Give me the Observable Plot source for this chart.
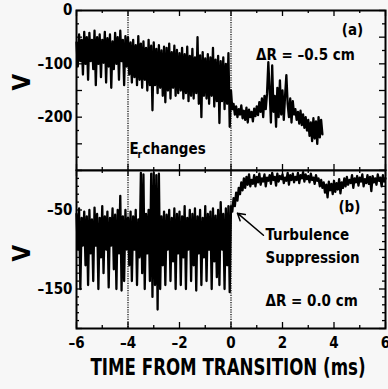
<!DOCTYPE html>
<html>
<head>
<meta charset="utf-8">
<script src="https://cdn.jsdelivr.net/npm/d3@7"></script>
<script src="https://cdn.jsdelivr.net/npm/@observablehq/plot@0.6"></script>
<style>
  html, body { margin: 0; padding: 0; background: #f7f7f7; }
  #wrap { position: relative; width: 388px; height: 389px; overflow: hidden; }
  #wrap > svg { position: absolute; left: 0; }
</style>
</head>
<body>
<div id="wrap"></div>
<script>
// ---- sampling grid (ms) ----
const TIME_START = -6;
const TIME_STEP = 0.05;

// ---- panel (a): ΔR = -0.5 cm, V vs time, sampled every 0.05 ms from -6 ms ----
const valuesA = [
  -60,-105,-45,-95,-55,-120,-40,-100,-50,-130,
  -42,-95,-55,-110,-38,-140,-50,-100,-45,-125,
  -55,-98,-40,-135,-52,-105,-45,-145,-58,-110,
  -42,-100,-50,-130,-38,-95,-55,-140,-48,-105,
  -50,-120,-60,-135,-55,-125,-65,-140,-48,-130,
  -62,-145,-58,-130,-70,-150,-55,-140,-66,-187,
  -60,-140,-72,-155,-65,-145,-75,-160,-68,-172,
  -70,-150,-62,-165,-78,-145,-66,-160,-74,-155,
  -80,-150,-70,-165,-82,-155,-68,-170,-85,-160,
  -72,-165,-88,-155,-50,-175,-84,-200,-78,-160,
  -90,-165,-82,-175,-88,-160,-70,-180,-92,-170,
  -85,-211,-95,-170,-88,-185,-100,-175,-80,-218,
  -150,-185,-175,-195,-180,-200,-185,-195,-178,-202,
  -188,-205,-182,-210,-186,-200,-190,-208,-184,-198,
  -180,-196,-172,-190,-165,-200,-160,-185,-155,-97,
  -150,-210,-103,-190,-160,-218,-145,-200,-131,-195,
  -150,-205,-160,-121,-175,-200,-165,-210,-170,-195,
  -185,-205,-190,-212,-188,-215,-195,-220,-200,-225,
  -205,-235,-210,-245,-202,-240,-208,-250,-200,-238,
  -205,-232
];

// ---- panel (b): ΔR = 0.0 cm, sampled every 0.05 ms from -6 ms ----
const valuesB = [
  -55,-100,-48,-150,-60,-95,-52,-120,-58,-145,
  -50,-105,-62,-140,-47,-95,-55,-150,-60,-110,
  -45,-130,-58,-100,-52,-148,-60,-95,-48,-125,
  -56,-150,-50,-105,-32,-152,-58,-140,-50,-100,
  -60,-120,-52,-140,-58,-100,-50,-145,-62,-110,
  -3,-130,-5,-150,-55,-105,-50,-140,-4,-160,
  -3,-145,-6,-176,-4,-150,-58,-120,-52,-145,
  -56,-100,-50,-140,-60,-115,-48,-150,-55,-105,
  -52,-145,-58,-110,-45,-150,-60,-100,-50,-140,
  -55,-120,-48,-152,-58,-105,-50,-145,-60,-110,
  -45,-140,-55,-100,-52,-150,-48,-115,-57,-135,
  -50,-145,-40,-100,-55,-150,-48,-120,-45,-154,
  -45,-52,-35,-45,-28,-38,-22,-30,-15,-25,
  -10,-22,-8,-18,-5,-20,-12,-17,-6,-20,
  -8,-15,-4,-18,-10,-14,-5,-20,-9,-13,
  -6,-17,-3,-12,-8,-19,-4,-14,-7,-11,
  -5,-16,-9,-13,-3,-18,-6,-12,-4,-15,
  -8,-12,-3,-16,-6,-10,-2,-14,-5,-11,
  -7,-15,-4,-12,-9,-17,-6,-13,-10,-20,
  -12,-22,-15,-28,-18,-34,-14,-25,-17,-30,
  -13,-27,-16,-24,-11,-29,-15,-22,-10,-20,
  -8,-18,-12,-16,-6,-22,-10,-15,-7,-19,
  -9,-14,-5,-20,-11,-16,-6,-17,-8,-26,
  -7,-15,-10,-18,-5,-13,-9,-20,-6,-14,
  -10
];

// ---- markers / ticks / labels ----
const markerTimes = [-4, 0];
const xLabelTicks = [-6, -4, -2, 0, 2, 4, 6];
const xMinorTicks = [-5, -3, -1, 1, 3, 5];
const yDomainA = [-300, 0];
const yLabelTicksA = [0, -100, -200];
const yMajorTicksA = [0, -50, -100, -150, -200, -250, -300];
const yMinorTicksA = [-25, -75, -125, -175, -225, -275];
const yDomainB = [-200, 0];
const yLabelTicksB = [-50, -150];
const yMajorTicksB = [0, -50, -100, -150, -200];
const yMinorTicksB = [-10, -20, -30, -40, -60, -70, -80, -90, -110, -120, -130, -140, -160, -170, -180, -190];

const notesA = [
  {t: 4.72, v: -37, text: "(a)"},
  {t: 2.89, v: -84, text: "ΔR = –0.5 cm"}
];
const erNote = {t: -3.94, v: -260};
const notesBMiddle = [
  {t: 4.60, v: -47, text: "(b)"}
];
const notesBStart = [
  {t: 1.34, v: -82, text: "Turbulence"},
  {t: 1.34, v: -111, text: "Suppression"},
  {t: 1.34, v: -166, text: "ΔR = 0.0 cm"}
];
const arrowB = [{t1: 1.26, v1: -82, t2: 0.25, v2: -54}];
const xTitle = "TIME FROM TRANSITION (ms)";
const yTitle = "V";

// ---- build ----
const toSeries = vals => vals.map((v, i) => ({t: +(TIME_START + i * TIME_STEP).toFixed(2), v}));
const seriesA = toSeries(valuesA);
const seriesB = toSeries(valuesB);

const FONT = "'DejaVu Sans Condensed', 'DejaVu Sans', sans-serif";
const fmt = d => d === 0 ? "0" : (d < 0 ? "–" + Math.abs(d) : String(d));
const TW = 1.3;
const LW = 2.3;

const W = 388, ML = 76, MR = 3;
const PW = W - ML - MR;

function frameTicks(xMajor, xMinor, yMajor, yMinor, PH) {
  const out = [];
  for (const [vals, len] of [[yMajor, 6], [yMinor, 3]]) {
    out.push(Plot.tickY(vals, {y: d => d, stroke: "black", strokeWidth: TW, insetRight: PW - len}));
    out.push(Plot.tickY(vals, {y: d => d, stroke: "black", strokeWidth: TW, insetLeft: PW - len}));
  }
  for (const [vals, len] of [[xMajor, 6], [xMinor, 3]]) {
    out.push(Plot.tickX(vals, {x: d => d, stroke: "black", strokeWidth: TW, insetTop: PH - len}));
    out.push(Plot.tickX(vals, {x: d => d, stroke: "black", strokeWidth: TW, insetBottom: PH - len}));
  }
  return out;
}

const HA = 171, MTA = 10, MBA = 1;
const plotA = Plot.plot({
  width: W, height: HA,
  marginLeft: ML, marginRight: MR, marginTop: MTA, marginBottom: MBA,
  x: {domain: [-6, 6], axis: null},
  y: {domain: yDomainA, axis: null},
  style: {background: "transparent", fontFamily: FONT, color: "black"},
  marks: [
    Plot.ruleX(markerTimes, {stroke: "#111", strokeWidth: 1.3, strokeDasharray: "1.2,1.2"}),
    Plot.line(seriesA, {x: "t", y: "v", stroke: "black", strokeWidth: LW}),
    Plot.frame({stroke: "black", strokeWidth: 2}),
    ...frameTicks(xLabelTicks, xMinorTicks, yMajorTicksA, yMinorTicksA, HA - MTA - MBA),
    Plot.axisY(yLabelTicksA, {anchor: "left", tickSize: 0, tickPadding: 4, tickFormat: fmt, label: null,
      fontSize: 15, fontWeight: "bold"}),
    Plot.text(notesA, {x: "t", y: "v", text: "text", textAnchor: "middle", fontSize: 15, fontWeight: "bold"}),
    Plot.text([erNote], {x: "t", y: "v", text: () => "E", textAnchor: "start", fontSize: 15, fontWeight: "bold"}),
    Plot.text([erNote], {x: "t", y: "v", text: () => "r", textAnchor: "start", dx: 8, dy: 6, fontSize: 10, fontWeight: "bold"}),
    Plot.text([erNote], {x: "t", y: "v", text: () => "changes", textAnchor: "start", dx: 13, fontSize: 15, fontWeight: "bold"}),
    Plot.text([yTitle], {frameAnchor: "left", text: d => d, dx: -54, rotate: -90, fontSize: 24, fontWeight: "bold"})
  ]
});

const HB = 229, MTB = 10, MBB = 61;
const plotB = Plot.plot({
  width: W, height: HB,
  marginLeft: ML, marginRight: MR, marginTop: MTB, marginBottom: MBB,
  x: {domain: [-6, 6], axis: null},
  y: {domain: yDomainB, axis: null},
  style: {background: "transparent", fontFamily: FONT, color: "black"},
  marks: [
    Plot.ruleX(markerTimes, {stroke: "#111", strokeWidth: 1.3, strokeDasharray: "1.2,1.2"}),
    Plot.line(seriesB, {x: "t", y: "v", stroke: "black", strokeWidth: LW}),
    Plot.frame({stroke: "black", strokeWidth: 2}),
    ...frameTicks(xLabelTicks, xMinorTicks, yMajorTicksB, yMinorTicksB, HB - MTB - MBB),
    Plot.axisY(yLabelTicksB, {anchor: "left", tickSize: 0, tickPadding: 4, tickFormat: fmt, label: null,
      fontSize: 15, fontWeight: "bold"}),
    Plot.axisX(xLabelTicks, {anchor: "bottom", tickSize: 0, tickPadding: 9, tickFormat: fmt, label: null,
      fontSize: 15, fontWeight: "bold"}),
    Plot.arrow(arrowB, {x1: "t1", y1: "v1", x2: "t2", y2: "v2", stroke: "black", strokeWidth: 1.5, headLength: 8, bend: 0}),
    Plot.text(notesBMiddle, {x: "t", y: "v", text: "text", textAnchor: "middle", fontSize: 15, fontWeight: "bold"}),
    Plot.text(notesBStart, {x: "t", y: "v", text: "text", textAnchor: "start", fontSize: 15, fontWeight: "bold"}),
    Plot.text([yTitle], {frameAnchor: "left", text: d => d, dx: -54, dy: 12, rotate: -90, fontSize: 24, fontWeight: "bold"}),
    Plot.text([xTitle], {frameAnchor: "bottom", text: d => d, dy: 46, dx: -3, fontSize: 23, fontWeight: "bold"})
  ]
});

// squeeze the condensed-bold x title to the reference's width
d3.select(plotB).selectAll("text")
  .filter(function() { return this.textContent === xTitle; })
  .attr("textLength", 275).attr("lengthAdjust", "spacingAndGlyphs");

const wrap = document.getElementById("wrap");
plotA.style.top = "0px";
plotB.style.top = "160px";
wrap.appendChild(plotB);
wrap.appendChild(plotA);
</script>
</body>
</html>
